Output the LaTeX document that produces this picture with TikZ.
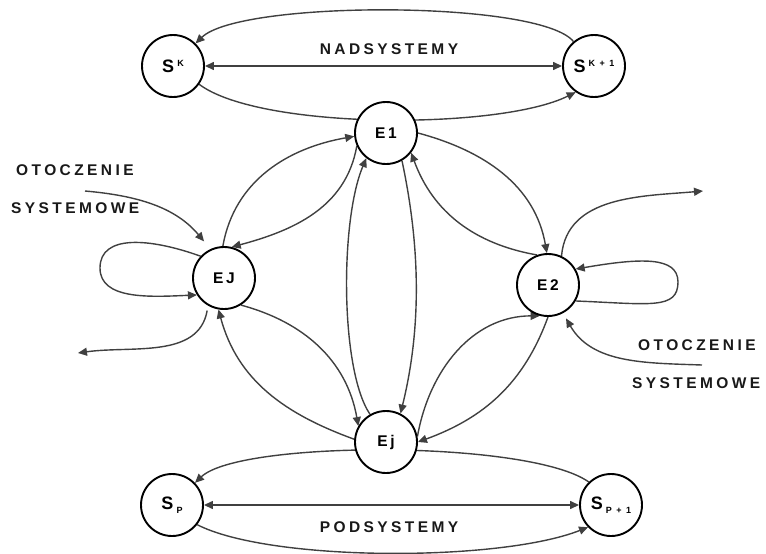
\documentclass[tikz,border=0pt]{standalone}
\usepackage{fontspec}
\setmainfont{Liberation Sans}
\newfontfamily\capfont[LetterSpace=22]{Liberation Sans}
\newfontfamily\statefont[LetterSpace=18]{Liberation Sans}
\newfontfamily\indexfont[LetterSpace=50]{Liberation Sans}
\usetikzlibrary{arrows.meta,backgrounds}

% big S with a raised or lowered index
\newcommand\supS[1]{{\fontsize{18}{18}\selectfont S}\kern3pt\raisebox{6pt}{\indexfont\bfseries\fontsize{9}{9}\selectfont #1}}
\newcommand\subS[1]{{\fontsize{18}{18}\selectfont S}\kern3pt\raisebox{-4pt}{\indexfont\bfseries\fontsize{9}{9}\selectfont #1}}

\tikzset{
  >={Triangle[length=9pt,width=8pt]},
  state/.style={circle, draw=black, line width=1.9pt, fill=white,
    minimum size=62pt, inner sep=0pt,
    font=\statefont\bfseries\fontsize{15.5}{15.5}\selectfont},
  link/.style={draw=black!75, line width=1.4pt, ->},
  caption/.style={font=\capfont\bfseries\fontsize{15.5}{15.5}\selectfont,
    inner sep=0pt, text=black!90},
}

\begin{document}
\begin{tikzpicture}[x=1pt,y=-1pt]
\useasboundingbox (0,0) rectangle (766,554);

% systems and elements
\node[state] (SK)  at (173,66)  {\supS{K}};
\node[state] (SKp) at (594,66)  {\supS{K+1}};
\node[state] (E1)  at (386,133) {E1};
\node[state] (EJ)  at (224,278) {EJ};
\node[state] (E2)  at (548,285) {E2};
\node[state] (Ej)  at (386,442) {Ej};
\node[state] (SP)  at (172,505) {\subS{P}};
\node[state] (SPp) at (611,505) {\subS{P+1}};

% captions
\node[caption] (nad) at (389,49) {NADSYSTEMY};
\node[caption] (pod) at (389,527) {PODSYSTEMY};
\node[caption, anchor=west] (otL) at (16,170) {OTOCZENIE};
\node[caption, anchor=west] (syL) at (11,208) {SYSTEMOWE};
\node[caption, anchor=west] (otR) at (638,345) {OTOCZENIE};
\node[caption, anchor=west] (syR) at (632,383) {SYSTEMOWE};

% free ends of the environment arrows
\coordinate (inL)  at (85,191);
\coordinate (outL) at (78,353);
\coordinate (outR) at (703,191);
\coordinate (inR)  at (702,365);

\begin{scope}[on background layer]
  % super-systems
  \draw[link] (SKp.130) .. controls (540,0) and (240,0) .. (SK.45);
  \draw[link, <->] (SK) -- (SKp);
  \draw[link] (SK.-35) .. controls (260,130) and (500,130) .. (SKp.235);
  % sub-systems
  \draw[link] (SPp.134) .. controls (530,440) and (240,440) .. (SP.44);
  \draw[link, <->] (SP) -- (SPp);
  \draw[link] (SP.-38) .. controls (270,562) and (500,562) .. (SPp.224);
  % links between elements
  \draw[link] (EJ.92) to[out=80,in=190] (E1.186);
  \draw[link] (E1.204) to[out=260,in=15] (EJ.76);
  \draw[link] (Ej.120) .. controls (340,370) and (340,220) .. (E1.232);
  \draw[link] (E1.-60) .. controls (421,250) and (421,330) .. (Ej.63);
  \draw[link] (E1.0) to[out=-15,in=100] (E2.92);
  \draw[link] (E2.110) to[out=170,in=-70] (E1.-38);
  \draw[link] (EJ.-58) to[out=-15,in=100] (Ej.150);
  \draw[link] (Ej.175) to[out=160,in=-75] (EJ.260);
  \draw[link] (Ej.10) to[out=80,in=180] (E2.255);
  \draw[link] (E2.270) to[out=250,in=20] (Ej.0);
  % self loops
  \draw[link] (EJ.137) .. controls (150,238) and (100,234) .. (100,268)
                       .. controls (100,300) and (150,297) .. (EJ.212);
  \draw[link] (E2.-30) .. controls (650,304) and (678,310) .. (678,282)
                       .. controls (678,256) and (640,258) .. (E2.30);
  % environment
  \draw[link, shorten >=10pt] (inL) to[out=-5,in=130] (EJ.115);
  \draw[link, shorten <=5pt] (EJ.240) to[out=260,in=8] (outL);
  \draw[link] (E2.65) to[out=85,in=185] (outR);
  \draw[link, shorten >=6pt] (inR) to[out=178,in=-60] (E2.-62);
\end{scope}
\end{tikzpicture}
\end{document}
